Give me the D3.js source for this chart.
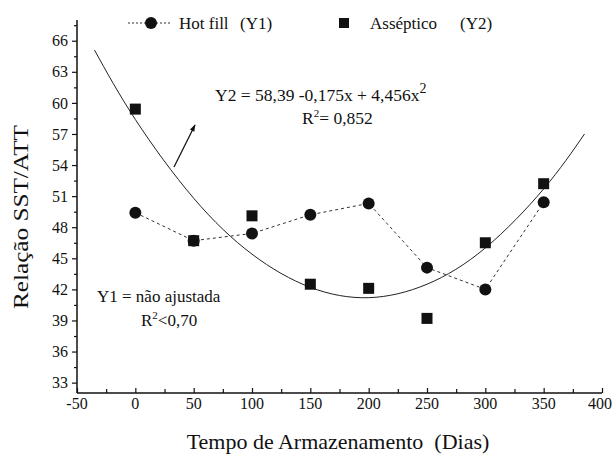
<!DOCTYPE html>
<html>
<head>
<meta charset="utf-8">
<script src="https://cdn.jsdelivr.net/npm/d3@7"></script>
<style>
  body { margin: 0; background: #fff; }
  svg { display: block; }
  svg text { fill: #111; }
</style>
</head>
<body>
<div id="chart"></div>
<script>
// storage time (days)
const days = [0, 50, 100, 150, 200, 250, 300, 350];
// Hot fill (Y1)
const hotFill = [49.4, 46.7, 47.4, 49.2, 50.3, 44.1, 42.0, 50.4];
// Asséptico (Y2)
const aseptico = [59.4, 46.7, 49.1, 42.5, 42.1, 39.2, 46.5, 52.2];
// fitted Y2 curve
const fitDays = [-35, 0, 50, 100, 150, 200, 250, 300, 350, 385];
const fitValues = [65.1, 58.4, 50.8, 45.4, 42.2, 41.2, 42.5, 46.0, 51.7, 57.0];

const xTicks = [-50, 0, 50, 100, 150, 200, 250, 300, 350, 400];
const yTicks = [33, 36, 39, 42, 45, 48, 51, 54, 57, 60, 63, 66];

const width = 612, height = 457;
const serif = 'Liberation Serif';

const svg = d3.select('#chart').append('svg')
  .attr('width', width)
  .attr('height', height)
  .attr('font-family', serif);

const x = d3.scaleLinear().domain([-50, 400]).range([77, 602]);
const y = d3.scaleLinear().domain([32, 68]).range([393, 20]);

// axes
const xAxis = svg.append('g')
  .attr('transform', `translate(0,${y(32)})`)
  .call(d3.axisTop(x).tickValues(xTicks).tickSize(5).tickFormat(''));
xAxis.select('.domain').attr('d', `M${x(-50)},0H${x(400)}`);
svg.append('g')
  .attr('transform', `translate(0,${y(32)})`)
  .call(d3.axisTop(x).tickValues(d3.range(-25, 400, 50)).tickSize(4).tickFormat(''))
  .select('.domain').remove();
xTicks.forEach(v => {
  svg.append('text')
    .attr('x', v === 400 ? 612 : x(v)).attr('y', y(32) + 16)
    .attr('text-anchor', v === 400 ? 'end' : 'middle')
    .attr('font-family', serif)
    .attr('font-size', 16)
    .text(v);
});

const yAxis = svg.append('g')
  .attr('transform', `translate(${x(-50)},0)`)
  .call(d3.axisLeft(y).tickValues(yTicks).tickSize(5).tickPadding(4));
yAxis.select('.domain').attr('d', `M0,${y(32)}V${y(68)}`);
yAxis.attr('font-family', serif).attr('font-size', 16);
svg.append('g')
  .attr('transform', `translate(${x(-50)},0)`)
  .call(d3.axisLeft(y).tickValues(d3.range(34.5, 68, 3)).tickSize(3).tickFormat(''))
  .select('.domain').remove();

svg.selectAll('.domain').attr('stroke', '#111').attr('stroke-width', 1.5);
svg.selectAll('.tick line').attr('stroke', '#111').attr('stroke-width', 1.2);

// fitted curve
const fitLine = d3.line()
  .x((d, i) => x(fitDays[i]))
  .y(d => y(d))
  .curve(d3.curveNatural);
svg.append('path')
  .attr('d', fitLine(fitValues))
  .attr('fill', 'none')
  .attr('stroke', '#222')
  .attr('stroke-width', 1);

// hot fill dashed line
const dataLine = d3.line()
  .x((d, i) => x(days[i]))
  .y(d => y(d));
svg.append('path')
  .attr('d', dataLine(hotFill))
  .attr('fill', 'none')
  .attr('stroke', '#333')
  .attr('stroke-width', 1)
  .attr('stroke-dasharray', '3,3');

svg.selectAll('.dot')
  .data(hotFill)
  .enter().append('circle')
  .attr('cx', (d, i) => x(days[i]))
  .attr('cy', d => y(d))
  .attr('r', 6)
  .attr('fill', '#111');

const sq = 11;
svg.selectAll('.sq')
  .data(aseptico)
  .enter().append('rect')
  .attr('x', (d, i) => x(days[i]) - sq / 2)
  .attr('y', d => y(d) - sq / 2)
  .attr('width', sq)
  .attr('height', sq)
  .attr('fill', '#111');

// legend
svg.append('line')
  .attr('x1', 128).attr('x2', 172).attr('y1', 23).attr('y2', 23)
  .attr('stroke', '#333').attr('stroke-dasharray', '2,2');
svg.append('circle').attr('cx', 151).attr('cy', 23).attr('r', 6).attr('fill', '#111');
svg.append('text').attr('x', 179).attr('y', 29).attr('font-size', 17).text('Hot fill');
svg.append('text').attr('x', 240).attr('y', 29).attr('font-size', 17).text('(Y1)');
svg.append('rect').attr('x', 339).attr('y', 18).attr('width', 10).attr('height', 10).attr('fill', '#111');
svg.append('text').attr('x', 370).attr('y', 29).attr('font-size', 17).text('Asséptico');
svg.append('text').attr('x', 460).attr('y', 29).attr('font-size', 17).text('(Y2)');

// annotations
const eq = svg.append('text').attr('x', 215).attr('y', 101).attr('font-size', 17.5);
eq.append('tspan').text('Y2 = 58,39 -0,175x + 4,456x');
eq.append('tspan').attr('dy', -8).attr('font-size', 14).text('2');

const r2 = svg.append('text').attr('x', 302).attr('y', 124).attr('font-size', 17.5);
r2.append('tspan').text('R');
r2.append('tspan').attr('dy', -7).attr('font-size', 11).text('2');
r2.append('tspan').attr('dy', 7).text('= 0,852');

svg.append('text').attr('x', 97).attr('y', 302).attr('font-size', 17).text('Y1 = não ajustada');
const r1 = svg.append('text').attr('x', 141).attr('y', 326).attr('font-size', 17);
r1.append('tspan').text('R');
r1.append('tspan').attr('dy', -7).attr('font-size', 11).text('2');
r1.append('tspan').attr('dy', 7).text('<0,70');

// arrow
svg.append('defs').append('marker')
  .attr('id', 'arrow')
  .attr('viewBox', '0 0 10 10')
  .attr('refX', 9).attr('refY', 5)
  .attr('markerWidth', 9).attr('markerHeight', 7)
  .attr('markerUnits', 'userSpaceOnUse')
  .attr('orient', 'auto')
  .append('path').attr('d', 'M0,1.5L10,5L0,8.5Z').attr('fill', '#111');
svg.append('line')
  .attr('x1', 174).attr('y1', 167).attr('x2', 195).attr('y2', 125)
  .attr('stroke', '#111').attr('stroke-width', 1.2)
  .attr('marker-end', 'url(#arrow)');

// axis titles
svg.append('text')
  .attr('x', 338).attr('y', 449)
  .attr('text-anchor', 'middle')
  .attr('font-size', 22)
  .style('white-space', 'pre')
  .text('Tempo de Armazenamento  (Dias)');
svg.append('text')
  .attr('transform', 'translate(28,217) rotate(-90)')
  .attr('text-anchor', 'middle')
  .attr('font-size', 21)
  .attr('textLength', 184)
  .attr('lengthAdjust', 'spacingAndGlyphs')
  .text('Relação SST/ATT');
</script>
</body>
</html>
